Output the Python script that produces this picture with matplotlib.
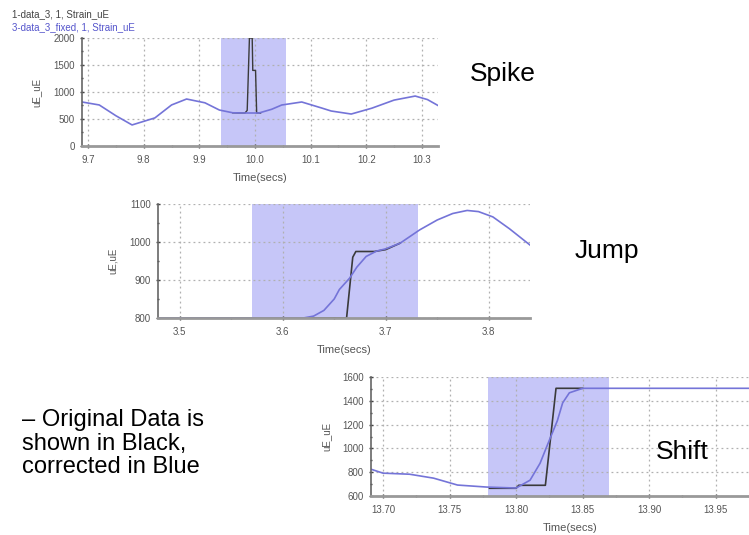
import numpy as np
import matplotlib
matplotlib.use('Agg')
import matplotlib.pyplot as plt
from matplotlib.ticker import AutoMinorLocator, FormatStrFormatter, MultipleLocator

plt.rcParams['font.family'] = ['Liberation Sans', 'DejaVu Sans']

# Spike panel data
spike_t_blue = [9.689, 9.72, 9.75, 9.779, 9.82, 9.85, 9.877, 9.91, 9.936, 9.96, 9.984,
                10.007, 10.03, 10.048, 10.084, 10.12, 10.137, 10.173, 10.21, 10.25, 10.288, 10.31, 10.329]
spike_v_blue = [815, 760, 560, 390, 520, 760, 870, 800, 666, 615, 611,
                611, 680, 759, 815, 703, 648, 592, 700, 850, 925, 860, 750]
spike_t_black = [9.96, 9.982, 9.986, 9.990, 9.995, 9.996, 10.001, 10.003, 10.01]
spike_v_black = [615, 611, 660, 2000, 2000, 1400, 1400, 611, 611]
spike_window = (9.939, 10.055)

# Jump panel data
jump_t_blue = [3.479, 3.55, 3.62, 3.63, 3.64, 3.65, 3.655, 3.665, 3.672, 3.681, 3.691,
               3.70, 3.714, 3.733, 3.75, 3.765, 3.779, 3.79, 3.804, 3.82, 3.84]
jump_v_blue = [800, 800, 800, 805, 820, 850, 875, 905, 934, 962, 976,
               982, 997, 1032, 1058, 1075, 1083, 1080, 1066, 1035, 992]
jump_t_black = [3.479, 3.55, 3.662, 3.668, 3.671, 3.689, 3.70, 3.714]
jump_v_black = [800, 800, 800, 960, 975, 975, 980, 997]
jump_window = (3.570, 3.731)

# Shift panel data
shift_t_blue = [13.691, 13.70, 13.72, 13.738, 13.756, 13.778, 13.80, 13.8105, 13.818,
                13.824, 13.831, 13.835, 13.84, 13.85, 13.99]
shift_v_blue = [825, 792, 783, 750, 692, 675, 667, 733, 875,
                1042, 1233, 1383, 1467, 1505, 1505]
shift_t_black = [13.78, 13.80, 13.802, 13.822, 13.830, 13.85]
shift_v_black = [665, 665, 690, 690, 1505, 1505]
shift_window = (13.779, 13.870)

BLUE = '#7474d8'
BLACK = '#3a3a3a'
SHADE = '#c6c6f8'
GRAY = '#555555'


def style_axes(ax, xlim, ylim, xstep, ystep, xfmt, ylabel, width_px):
    ax.set_xlim(*xlim)
    ax.set_ylim(*ylim)
    ax.xaxis.set_major_locator(MultipleLocator(xstep))
    ax.yaxis.set_major_locator(MultipleLocator(ystep))
    ax.xaxis.set_major_formatter(FormatStrFormatter(xfmt))
    ax.xaxis.set_minor_locator(AutoMinorLocator(2))
    ax.yaxis.set_minor_locator(AutoMinorLocator(2))
    for s in ['top', 'right']:
        ax.spines[s].set_visible(False)
    ax.spines['left'].set_color('#666666')
    ax.spines['left'].set_linewidth(1.2)
    ax.spines['bottom'].set_color('#999999')
    ax.spines['bottom'].set_linewidth(2)
    ax.tick_params(which='both', direction='inout', colors='#444444', labelcolor=GRAY,
                   labelsize=7, length=3, width=1)
    ax.tick_params(which='minor', length=2)
    ax.tick_params(axis='x', pad=5)
    ax.grid(True, which='major', color='#b0b0b0', linestyle=(0, (1.5, 2.5)), linewidth=0.9)
    ax.set_xlabel('Time(secs)', fontsize=8, color=GRAY, labelpad=6)
    ax.set_ylabel(ylabel, fontsize=7, color=GRAY)
    ax.yaxis.set_label_coords(-40 / width_px, 0.5)
    ax.patch.set_alpha(0)


fig = plt.figure(figsize=(7.49, 5.35), dpi=100)

# Spike
ax1 = fig.add_axes([82/749, 1-146/535, 356/749, 108/535])
ax1.axvspan(*spike_window, color=SHADE, lw=0)
ax1.plot(spike_t_black, spike_v_black, color=BLACK, lw=1)
ax1.plot(spike_t_blue, spike_v_blue, color=BLUE, lw=1.2)
style_axes(ax1, (9.689, 10.329), (0, 2000), 0.1, 500, '%.1f', 'uE_uE', 356)

# Jump
ax2 = fig.add_axes([158/749, 1-318/535, 372/749, 114/535])
ax2.axvspan(*jump_window, color=SHADE, lw=0)
ax2.plot(jump_t_black, jump_v_black, color=BLACK, lw=1.2)
ax2.plot(jump_t_blue, jump_v_blue, color=BLUE, lw=1.2)
style_axes(ax2, (3.479, 3.84), (800, 1100), 0.1, 100, '%.1f', 'uE,uE', 372)

# Shift
ax3 = fig.add_axes([371/749, 1-496/535, 398/749, 119/535])
ax3.axvspan(*shift_window, color=SHADE, lw=0)
ax3.plot(shift_t_black, shift_v_black, color=BLACK, lw=1.2)
ax3.plot(shift_t_blue, shift_v_blue, color=BLUE, lw=1.2)
style_axes(ax3, (13.691, 13.99), (600, 1600), 0.05, 200, '%.2f', 'uE_uE', 398)

# legend lines at top left
fig.text(12/749, 1-14/535, '1-data_3, 1, Strain_uE', fontsize=7, color='#444444', va='center')
fig.text(12/749, 1-27/535, '3-data_3_fixed, 1, Strain_uE', fontsize=7, color='#5555cc', va='center')

# annotations
fig.text(470/749, 1-81/535, 'Spike', fontsize=19, color='black')
fig.text(575/749, 1-258/535, 'Jump', fontsize=19, color='black')
fig.text(656/749, 1-459/535, 'Shift', fontsize=19, color='black')
fig.text(22/749, 1-473/535, '\u2013 Original Data is\nshown in Black,\ncorrected in Blue',
         fontsize=17, color='black', va='baseline', linespacing=1.08)

fig.savefig('out.png', dpi=100)
